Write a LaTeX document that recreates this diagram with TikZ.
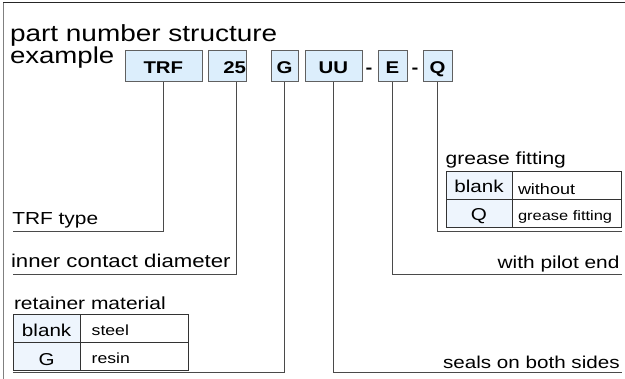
\documentclass[tikz,border=0pt]{standalone}
\usepackage{fontspec}
\setmainfont{Liberation Sans}[FakeStretch=1.2]
\usetikzlibrary{positioning}
\definecolor{codefill}{HTML}{DCEEFC}
\definecolor{keyfill}{HTML}{EEF5FD}
\definecolor{rulegray}{HTML}{4A4A4A}
\newcommand{\fsz}[1]{\fontsize{#1}{#1}\selectfont}

\begin{document}
\begin{tikzpicture}[%
      x=1pt, y=-1pt,
      every node/.style={inner sep=0pt, outer sep=0pt},
      codebox/.style={draw=gray!75!black, fill=codefill, minimum height=31.7pt, anchor=west,
        font=\fsz{17}\bfseries, text height=16.4pt, text depth=0pt},
      lbl/.style={anchor=base west, font=\fsz{17.4}},
      keycell/.style={draw=black!80, fill=keyfill, minimum height=28pt, font=\fsz{17.2}, text depth=0pt},
      valcell/.style={draw=black!80, minimum height=28pt, align=left, text depth=0pt},
      wire/.style={draw=rulegray, line width=0.8pt},
      node distance=0pt
    ]
    \useasboundingbox (0,0) rectangle (625,379);
    \draw[black!85, line width=1pt] (3,2.7) -- (625,2.7);
    \draw[gray, line width=1pt] (3,2.7) -- (3,379);

    \node [anchor=base west, font=\fsz{23.3}] (title) at (10,41.7) {part number structure};
    \node [anchor=base west, font=\fsz{23}] (title2) at (10,63.3) {example};

    \node [codebox, minimum width=76.7pt] (trf) at (125,65.8) {TRF};
    \node [codebox, minimum width=37.7pt, text width=37.7pt, align=right] (size) at (208.3,65.8) {25};
    \node [codebox, minimum width=27.6pt] (g) at (270.7,65.8) {G};
    \node [codebox, minimum width=56.7pt] (uu) at (305,65.8) {UU};
    \node [codebox, minimum width=28.7pt] (e) at (378,65.8) {E};
    \node [codebox, minimum width=29pt] (q) at (423,65.8) {Q};
    \node [anchor=base, font=\fsz{17}\bfseries] (dash1) at (369,74) {-};
    \node [anchor=base, font=\fsz{17}\bfseries] (dash2) at (415,74) {-};

    \node [lbl] (type) at (12.3,224.5) {TRF type};
    \node [lbl, font=\fsz{18.5}] (inner) at (11,267.3) {inner contact diameter};
    \node [lbl, font=\fsz{17.5}] (retainer) at (14,309.3) {retainer material};
    \node [lbl, font=\fsz{17.5}] (grease) at (445.7,165) {grease fitting};
    \node [lbl, anchor=base east] (pilot) at (619.5,268.3) {with pilot end};
    \node [lbl, anchor=base east, font=\fsz{17.2}] (seals) at (619.7,368.3) {seals on both sides};

    \node [keycell, anchor=north west, minimum width=66.7pt, text height=17pt] (r1) at (13.3,314.3) {blank};
    \node [keycell, below=of r1, minimum width=66.7pt, text height=17.6pt] (r2) {G};
    \node [valcell, right=of r1, inner xsep=11.7pt, text width=84.3pt, font=\fsz{14.7}, text height=13.6pt] (r1v) {steel};
    \node [valcell, right=of r2, inner xsep=11.7pt, text width=84.3pt, font=\fsz{14.7}, text height=14.3pt] (r2v) {resin};

    \node [keycell, anchor=north west, minimum width=66.6pt, text height=13pt] (f1) at (445.7,171.7) {blank};
    \node [keycell, below=of f1, minimum width=66.6pt, text height=12.7pt] (f2) {Q};
    \node [valcell, right=of f1, inner xsep=5.7pt, text width=97.3pt, font=\fsz{15}, text height=18.4pt] (f1v) {without};
    \node [valcell, right=of f2, inner xsep=5.7pt, text width=97.3pt, font=\fsz{13.7}, text height=12.7pt] (f2v) {grease fitting};

    \coordinate (typeend) at (13,231);
    \coordinate (innerend) at (13,274.3);
    \coordinate (matend) at (13,372.7);
    \coordinate (sealend) at (621.5,372.7);
    \coordinate (pilotend) at (621.5,274);
    \coordinate (greaseend) at (621.5,231);

    \path[wire]
    (trf.south) |- (typeend)
    ([xshift=9.4pt]size.south) |- (innerend)
    (g.south) |- (matend)
    (uu.south) |- (sealend)
    (e.south) |- (pilotend)
    (q.south) |- (greaseend)
    ;
\end{tikzpicture}
\end{document}
